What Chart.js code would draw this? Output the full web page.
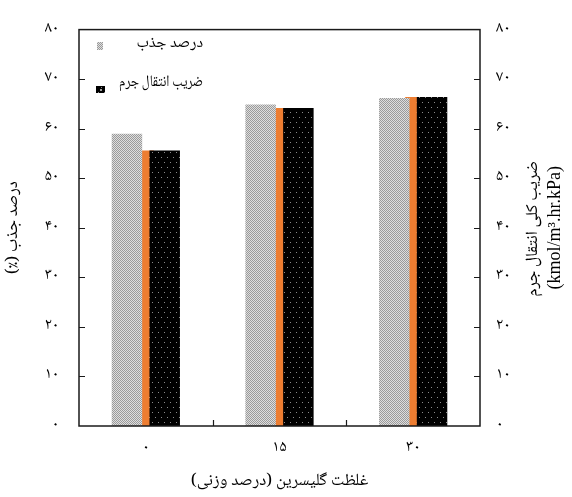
<!DOCTYPE html>
<html>
<head>
<meta charset="utf-8">
<script src="https://cdn.jsdelivr.net/npm/chart.js@4"></script>
<style>
  html, body { margin: 0; padding: 0; background: #fff; }
  canvas { display: block; }
</style>
</head>
<body>
<canvas id="c" width="572" height="497" dir="rtl"></canvas>
<script>
// Glycerin concentration (wt%) categories
const categories = ['۰', '۱۵', '۳۰'];
// Absorption percentage (%)
const absorptionPercent = [59.0, 64.9, 66.2];
// Overall mass transfer coefficient (kmol/m3.hr.kPa)
const massTransferCoef = [55.6, 64.2, 66.4];
// Persian tick labels for 0..80 step 10
const valueTickLabels = ['۰', '۱۰', '۲۰', '۳۰', '۴۰', '۵۰', '۶۰', '۷۰', '۸۰'];

const seriesLabels = ['درصد جذب', 'ضریب انتقال جرم'];
const yTitle = 'درصد جذب (٪)';
const y2Title = 'ضریب کلی انتقال جرم';
const y2Unit = '(kmol/m³.hr.kPa)';
const xTitle = 'غلظت گلیسرین (درصد وزنی)';

const canvas = document.getElementById('c');
const ctx = canvas.getContext('2d');

const FA_FONT = "'Noto Naskh Arabic', 'Noto Sans Arabic', 'DejaVu Sans', sans-serif";

function makeGrayPattern() {
  const t = document.createElement('canvas');
  t.width = 2; t.height = 2;
  const g = t.getContext('2d');
  g.fillStyle = '#dedede';
  g.fillRect(0, 0, 2, 2);
  g.fillStyle = '#9a9a9a';
  g.fillRect(0, 0, 1, 1);
  g.fillRect(1, 1, 1, 1);
  return ctx.createPattern(t, 'repeat');
}

function makeDotPattern() {
  const t = document.createElement('canvas');
  t.width = 12; t.height = 10;
  const g = t.getContext('2d');
  g.fillStyle = '#000';
  g.fillRect(0, 0, 12, 10);
  g.fillStyle = '#8c8c8c';
  [[2, 2], [8, 2], [5, 7], [11, 7]].forEach(([x, y]) => g.fillRect(x, y, 1, 1));
  return ctx.createPattern(t, 'repeat');
}

const grayFill = makeGrayPattern();
const dotFill = makeDotPattern();
const ORANGE = '#ED7D31';

// Frame, inward tick marks, legend and right-hand title
const decorations = {
  id: 'decorations',
  afterDraw(chart) {
    const c = chart.ctx;
    const a = chart.chartArea;
    const ys = chart.scales.y;
    const xs = chart.scales.x;
    c.save();
    c.strokeStyle = '#1a1a1a';
    c.lineWidth = 1.5;
    c.strokeRect(a.left, a.top, a.right - a.left, a.bottom - a.top);

    c.lineWidth = 1.2;
    c.beginPath();
    ys.ticks.forEach(t => {
      if (t.value <= ys.min || t.value >= ys.max) return;
      const py = Math.round(ys.getPixelForValue(t.value)) + 0.5;
      c.moveTo(a.left, py); c.lineTo(a.left + 6, py);
      c.moveTo(a.right, py); c.lineTo(a.right - 6, py);
    });
    for (let i = 0; i < categories.length - 1; i++) {
      const px = Math.round((xs.getPixelForValue(i) + xs.getPixelForValue(i + 1)) / 2) + 0.5;
      c.moveTo(px, a.bottom); c.lineTo(px, a.bottom - 6);
    }
    c.stroke();

    // legend
    const items = [
      { fill: grayFill, box: [97, 42, 6, 8], y: 45 },
      { fill: dotFill, box: [96, 86, 9, 7], y: 84 }
    ];
    c.font = '16px ' + FA_FONT;
    c.textBaseline = 'middle';
    c.textAlign = 'right';
    c.direction = 'rtl';
    items.forEach((it, i) => {
      c.fillStyle = it.fill;
      c.fillRect(...it.box);
      c.fillStyle = '#000';
      c.fillText(chart.data.datasets[i].label, 203, it.y, 84);
    });
    c.fillStyle = '#a0a0a0';
    c.fillRect(100, 89, 2, 2);

    // right axis title
    const cy = (a.top + a.bottom) / 2;
    c.fillStyle = '#000';
    c.textAlign = 'center';
    c.save();
    c.translate(535, cy + 1);
    c.rotate(-Math.PI / 2);
    c.direction = 'rtl';
    c.font = '17px ' + FA_FONT;
    c.fillText(y2Title, 0, 0);
    c.restore();
    c.save();
    c.translate(555, cy);
    c.rotate(-Math.PI / 2);
    c.direction = 'ltr';
    c.font = "18px 'Liberation Serif', serif";
    c.fillText(y2Unit, 0, 0);
    c.restore();
    c.restore();
  }
};

const tickFont = { family: FA_FONT, size: 16 };
const valueTick = v => valueTickLabels[Math.round(v / 10)];

new Chart(ctx, {
  type: 'bar',
  data: {
    labels: categories,
    datasets: [
      {
        label: seriesLabels[0],
        data: absorptionPercent,
        backgroundColor: grayFill,
        yAxisID: 'y',
        order: 0,
        categoryPercentage: 0.565,
        barPercentage: 0.807
      },
      {
        label: seriesLabels[1],
        data: massTransferCoef,
        backgroundColor: dotFill,
        yAxisID: 'y2',
        order: 1,
        categoryPercentage: 0.565,
        barPercentage: 0.807
      },
      {
        // narrow band centred on each category, behind the two grouped bars
        label: seriesLabels[1],
        data: massTransferCoef,
        backgroundColor: ORANGE,
        yAxisID: 'y2',
        order: 2,
        grouped: false,
        categoryPercentage: 1,
        barPercentage: 0.12
      }
    ]
  },
  options: {
    responsive: false,
    animation: false,
    events: [],
    layout: { padding: { top: 15, left: 0, right: 0, bottom: 0 } },
    plugins: { legend: { display: false }, tooltip: { enabled: false } },
    scales: {
      x: {
        type: 'category',
        offset: true,
        grid: { display: false, drawTicks: false },
        border: { display: false },
        ticks: { padding: 13, color: '#000', font: tickFont, maxRotation: 0 },
        title: {
          display: true, text: xTitle, color: '#000',
          font: { family: FA_FONT, size: 17 }, padding: { top: 8 }
        },
        afterFit(s) { s.height = 71; }
      },
      y: {
        position: 'left',
        min: 0, max: 80,
        grid: { display: false, drawTicks: false },
        border: { display: false },
        ticks: { stepSize: 10, padding: 20, color: '#000', font: tickFont, callback: valueTick },
        title: {
          display: true, text: yTitle, color: '#000',
          font: { family: FA_FONT, size: 17 }, padding: { top: 5, bottom: 4 }
        },
        afterFit(s) { s.width = 79; }
      },
      y2: {
        position: 'right',
        min: 0, max: 80,
        grid: { display: false, drawTicks: false },
        border: { display: false },
        ticks: { stepSize: 10, padding: 16, color: '#000', font: tickFont, callback: valueTick },
        afterFit(s) { s.width = 92; }
      }
    }
  },
  plugins: [decorations]
});
</script>
</body>
</html>
